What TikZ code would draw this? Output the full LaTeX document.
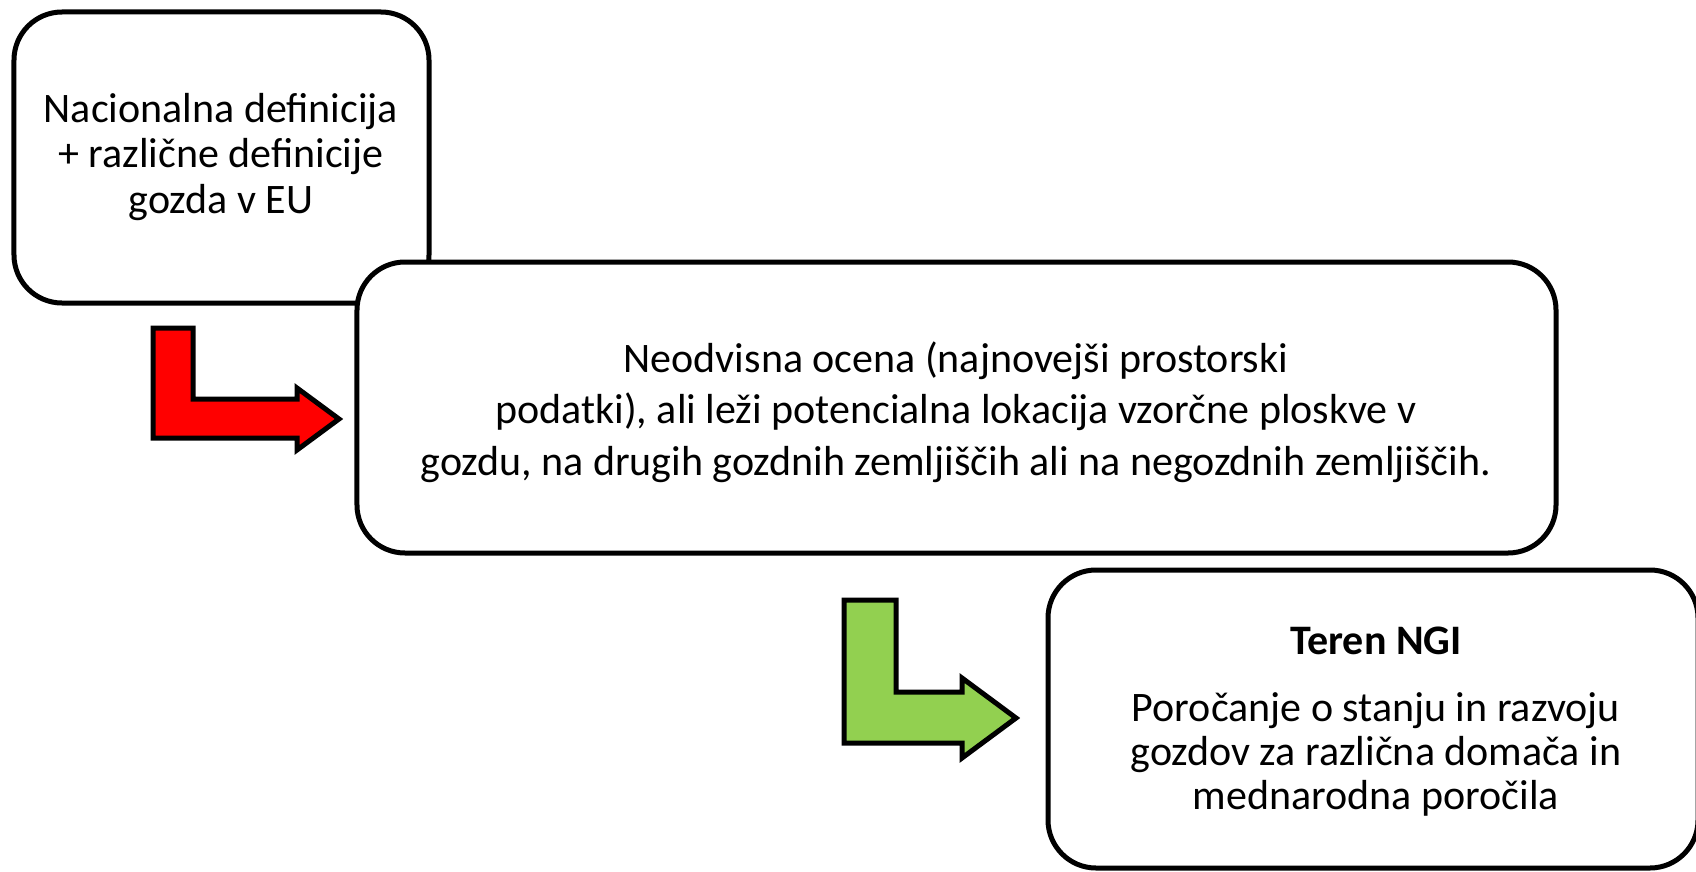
\documentclass[tikz,border=0pt]{standalone}
\usepackage{fontspec}
\setmainfont{Carlito}
\definecolor{arrowred}{HTML}{FF0000}
\definecolor{arrowgreen}{HTML}{92D050}
\begin{document}
\begin{tikzpicture}[x=1bp,y=-1bp,
  box/.style={draw=black, line width=5bp, fill=white, rounded corners=48bp, inner sep=0pt, outer sep=0pt},
  boxtext/.style={align=center, inner sep=0pt, font=\fontsize{42bp}{45.5bp}\selectfont},
  bentarrow/.style={draw=black, line width=5bp, line join=miter}]
\useasboundingbox (0,0) rectangle (1696,871);
\clip (0,0) rectangle (1696,871);
\fill[white] (0,0) rectangle (1696,871);
% boxes
\node[box, minimum width=415bp, minimum height=291bp] (b1) at (221.5,157.5) {};
\node[box, minimum width=1199bp, minimum height=291bp] (b2) at (956.5,407.5) {};
\node[box, minimum width=650bp, minimum height=298bp] (b3) at (1373,719) {};
% texts
\node[boxtext] (t1) at (221,157) {Nacionalna definicija\\+ različne definicije\\gozda v EU};
\node[boxtext, font=\fontsize{42bp}{51.5bp}\selectfont] (t2) at (956,412) {Neodvisna ocena (najnovejši prostorski\\podatki), ali leži potencialna lokacija vzorčne ploskve v\\gozdu, na drugih gozdnih zemljiščih ali na negozdnih zemljiščih.};
\node[boxtext, font=\fontsize{42bp}{44bp}\selectfont] (t3) at (1376,722) {{\bfseries Teren NGI}\\[23bp]Poročanje o stanju in razvoju\\gozdov za različna domača in\\mednarodna poročila};
% bent arrows
\draw[bentarrow, fill=arrowred] (153,328) -- (193,328) -- (193,399) -- (297,399) -- (297,388) -- (339,419) -- (297,450) -- (297,438) -- (153,438) -- cycle;
\draw[bentarrow, fill=arrowgreen] (844,600) -- (896,600) -- (896,692) -- (962,692) -- (962,678) -- (1016,718) -- (962,758) -- (962,743) -- (844,743) -- cycle;
\end{tikzpicture}
\end{document}
